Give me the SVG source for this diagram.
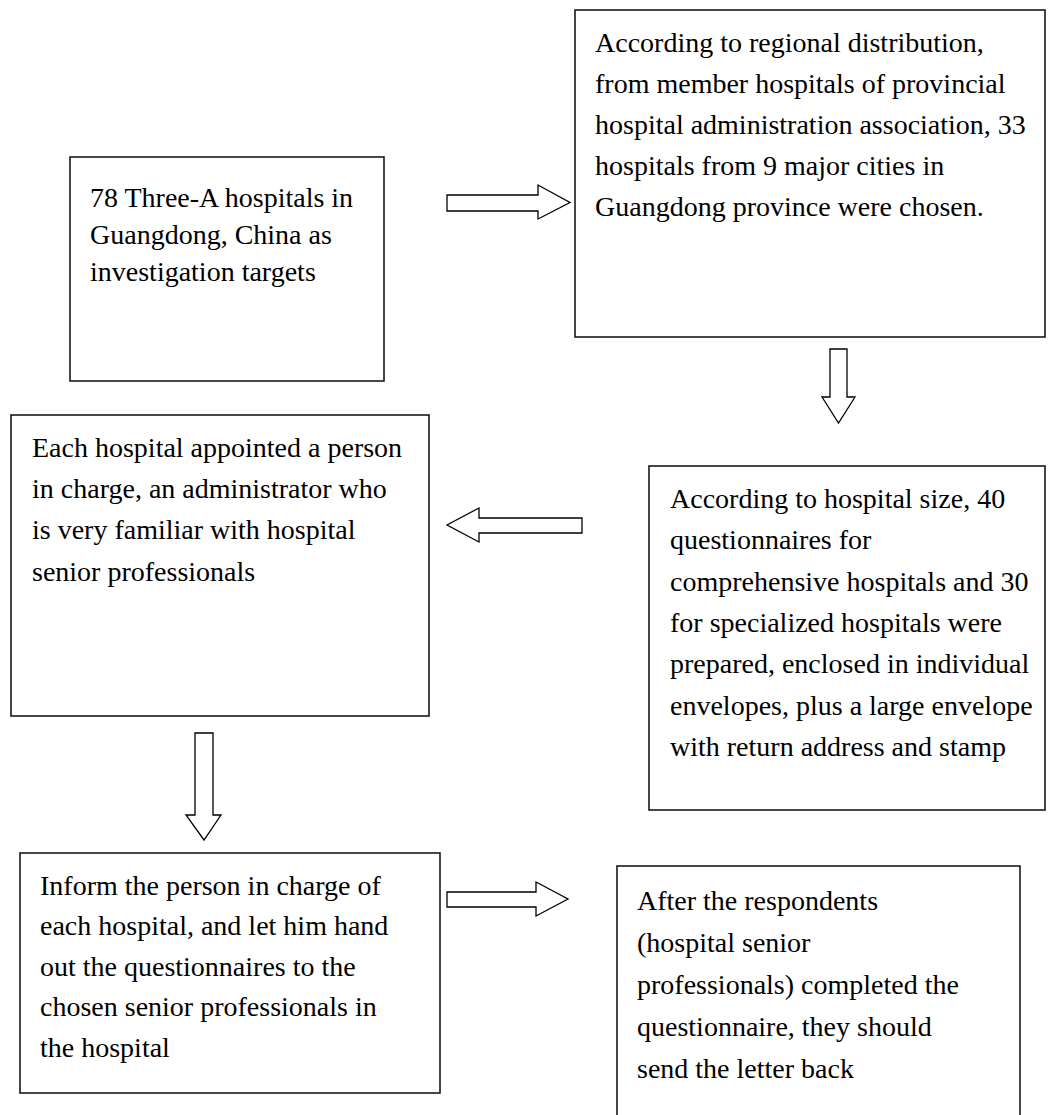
<svg xmlns="http://www.w3.org/2000/svg" width="1049" height="1115" viewBox="0 0 1049 1115">
<style>
.box{fill:#fff;stroke:#1a1a1a;stroke-width:1.6}
.arr{fill:#fff;stroke:#000;stroke-width:1.3;stroke-linejoin:miter}
text{font-family:"Liberation Serif","Times New Roman",serif;font-size:28px;fill:#000}
</style>
<rect width="1049" height="1115" fill="#fff"/>
<g id="connectors">
<polygon class="arr" points="447,195 538,195 538,185 570,202.5 538,219 538,211 447,211"/>
<polygon class="arr" points="830,349 847,349 847,397 855,397 838.5,423 822,397 830,397"/>
<polygon class="arr" points="582,518 479,518 479,508 447,525 479,542 479,533 582,533"/>
<polygon class="arr" points="195,733 213,733 213,815 221,815 204,840 186,815 195,815"/>
<polygon class="arr" points="447,892 536,892 536,882 568,899 536,916 536,907 447,907"/>
</g>
<g id="n1">
<rect class="box" x="70" y="157" width="314" height="224"/>
<text x="90" y="207">78 Three-A hospitals in</text>
<text x="90" y="244">Guangdong, China as</text>
<text x="90" y="281">investigation targets</text>
</g>
<g id="n2">
<rect class="box" x="575" y="10" width="470" height="327"/>
<text x="595" y="52">According to regional distribution,</text>
<text x="595" y="93">from member hospitals of provincial</text>
<text x="595" y="134">hospital administration association, 33</text>
<text x="595" y="175">hospitals from 9 major cities in</text>
<text x="595" y="216">Guangdong province were chosen.</text>
</g>
<g id="n3">
<rect class="box" x="11" y="415" width="418" height="301"/>
<text x="32" y="457">Each hospital appointed a person</text>
<text x="32" y="498">in charge, an administrator who</text>
<text x="32" y="539">is very familiar with hospital</text>
<text x="32" y="581">senior professionals</text>
</g>
<g id="n4">
<rect class="box" x="649" y="466" width="396" height="344"/>
<text x="670" y="508">According to hospital size, 40</text>
<text x="670" y="549">questionnaires for</text>
<text x="670" y="591">comprehensive hospitals and 30</text>
<text x="670" y="632">for specialized hospitals were</text>
<text x="670" y="673">prepared, enclosed in individual</text>
<text x="670" y="715">envelopes, plus a large envelope</text>
<text x="670" y="756">with return address and stamp</text>
</g>
<g id="n5">
<rect class="box" x="20" y="853" width="420" height="240"/>
<text x="40" y="895">Inform the person in charge of</text>
<text x="40" y="935">each hospital, and let him hand</text>
<text x="40" y="976">out the questionnaires to the</text>
<text x="40" y="1016">chosen senior professionals in</text>
<text x="40" y="1057">the hospital</text>
</g>
<g id="n6">
<rect class="box" x="617" y="866" width="403" height="270"/>
<text x="637" y="910">After the respondents</text>
<text x="637" y="952">(hospital senior</text>
<text x="637" y="994">professionals) completed the</text>
<text x="637" y="1036">questionnaire, they should</text>
<text x="637" y="1078">send the letter back</text>
</g>
</svg>
